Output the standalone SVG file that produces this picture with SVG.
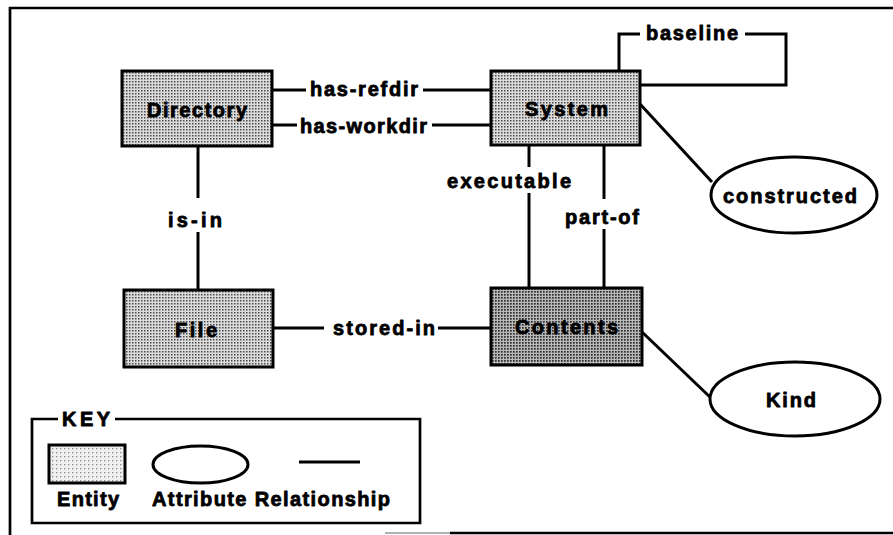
<svg xmlns="http://www.w3.org/2000/svg" width="893" height="535" viewBox="0 0 893 535">
  <defs>
    <!-- halftone fills for entity boxes -->
    <pattern id="tone" width="3" height="3" patternUnits="userSpaceOnUse">
      <rect width="3" height="3" fill="#dcdcdc"/>
      <rect width="1.5" height="1.5" fill="#4a4a4a"/>
    </pattern>
    <pattern id="tone-dark" width="3" height="3" patternUnits="userSpaceOnUse">
      <rect width="3" height="3" fill="#b8b8b8"/>
      <rect width="1.7" height="1.7" fill="#2e2e2e"/>
    </pattern>
    <pattern id="tone-light" width="4" height="4" patternUnits="userSpaceOnUse">
      <rect width="4" height="4" fill="#efefef"/>
      <rect width="1.3" height="1.3" fill="#8a8a8a"/>
    </pattern>
  </defs>
  <style>
    .frame { fill: none; stroke: #000; stroke-width: 2.7; }
    .entity { stroke: #000; stroke-width: 3; }
    .attr { fill: #fff; stroke: #000; stroke-width: 3; }
    .link { fill: none; stroke: #000; stroke-width: 3; stroke-linejoin: miter; }
    text { font-family: "Liberation Sans", Arial, Helvetica, sans-serif; font-weight: bold; font-size: 20px; fill: #000; stroke: #000; stroke-width: 0.8; stroke-linejoin: round; }
  </style>

  <rect width="893" height="535" fill="#fff"/>

  <!-- outer frame -->
  <g id="frame" class="frame">
    <path d="M893 8 H10 V535"/>
    <path d="M385 533 H893" stroke="#999" stroke-width="1.5"/>
    <path d="M450 533 H893"/>
  </g>

  <!-- relationships -->
  <g id="connectors" class="link">
    <!-- has-refdir -->
    <path d="M272 90 H306"/>
    <path d="M423 90 H490"/>
    <!-- has-workdir -->
    <path d="M272 125 H297"/>
    <path d="M432 125 H490"/>
    <!-- is-in -->
    <path d="M198 146 V198"/>
    <path d="M198 232 V290"/>
    <!-- stored-in -->
    <path d="M273 328 H324"/>
    <path d="M438 328 H491"/>
    <!-- executable -->
    <path d="M529 145 V167"/>
    <path d="M529 193 V288"/>
    <!-- part-of -->
    <path d="M604 145 V199"/>
    <path d="M604 229 V288"/>
    <!-- baseline (System to itself) -->
    <path d="M619 70 V34 H640"/>
    <path d="M745 34 H786 V85 H640"/>
    <!-- attributes -->
    <path d="M640 104 L712 182"/>
    <path d="M642 332 L711 398"/>
  </g>

  <g id="lbl-has-refdir"><text x="310" y="96" textLength="108" lengthAdjust="spacing">has-refdir</text></g>
  <g id="lbl-has-workdir"><text x="300" y="133" textLength="127" lengthAdjust="spacing">has-workdir</text></g>
  <g id="lbl-is-in"><text x="168" y="227" textLength="54" lengthAdjust="spacing">is-in</text></g>
  <g id="lbl-stored-in"><text x="333" y="335" textLength="102" lengthAdjust="spacing">stored-in</text></g>
  <g id="lbl-executable"><text x="447" y="188" textLength="124" lengthAdjust="spacing">executable</text></g>
  <g id="lbl-part-of"><text x="565" y="224" textLength="74" lengthAdjust="spacing">part-of</text></g>
  <g id="lbl-baseline"><text x="646" y="40" textLength="92" lengthAdjust="spacing">baseline</text></g>

  <!-- entities -->
  <g id="directory">
    <rect class="entity" x="122" y="71" width="150" height="75" fill="url(#tone)"/>
    <text x="147" y="117" textLength="100" lengthAdjust="spacing">Directory</text>
  </g>
  <g id="system">
    <rect class="entity" x="491" y="71" width="149" height="74" fill="url(#tone)"/>
    <text x="525" y="116" textLength="83" lengthAdjust="spacing">System</text>
  </g>
  <g id="file">
    <rect class="entity" x="124" y="290" width="149" height="77" fill="url(#tone)"/>
    <text x="175" y="337" textLength="42" lengthAdjust="spacing">File</text>
  </g>
  <g id="contents">
    <rect class="entity" x="491" y="288" width="151" height="77" fill="url(#tone-dark)"/>
    <text x="515" y="334" textLength="103" lengthAdjust="spacing">Contents</text>
  </g>

  <!-- attributes -->
  <g id="constructed">
    <ellipse class="attr" cx="794" cy="195" rx="83" ry="38"/>
    <text x="723" y="203" textLength="134" lengthAdjust="spacing">constructed</text>
  </g>
  <g id="kind">
    <ellipse class="attr" cx="795" cy="399" rx="85" ry="37"/>
    <text x="766" y="407" textLength="50" lengthAdjust="spacing">Kind</text>
  </g>

  <!-- legend -->
  <g id="key">
    <path class="frame" d="M58 419 H32 V523 H420 V419 H115"/>
    <text x="62" y="426" textLength="48" lengthAdjust="spacing">KEY</text>
    <rect class="entity" x="49" y="445" width="76" height="38" fill="url(#tone-light)"/>
    <ellipse class="attr" cx="200.5" cy="464.5" rx="47.5" ry="18.5"/>
    <path class="link" d="M299 462 H360"/>
    <text x="57" y="506" textLength="62" lengthAdjust="spacing">Entity</text>
    <text x="152" y="506" textLength="238" lengthAdjust="spacing">Attribute Relationship</text>
  </g>
</svg>
